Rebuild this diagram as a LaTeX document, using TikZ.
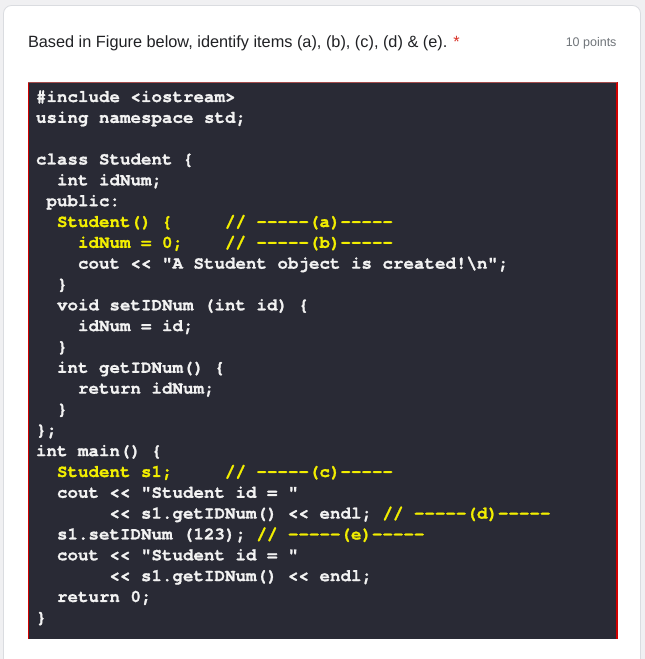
\documentclass[tikz,border=0pt]{standalone}
\usepackage{fontspec}
\setmainfont{Liberation Sans}
\newfontfamily\codefont{TeX Gyre Cursor}[BoldFeatures={FakeBold=1.2}]
\definecolor{pagebg}{HTML}{F0F0F2}
\definecolor{cardline}{HTML}{DADCE0}
\definecolor{codebg}{HTML}{292A35}
\definecolor{codered}{HTML}{D00000}
\definecolor{codeyellow}{HTML}{F2EE00}
\definecolor{codewhite}{HTML}{F2F2F2}
\definecolor{titletext}{HTML}{202124}
\definecolor{graytext}{HTML}{70757A}
\definecolor{starred}{HTML}{D93025}
\tikzset{
  codeline/.style={anchor=base west, inner sep=0pt, outer sep=0pt,
    font=\codefont\bfseries\fontsize{17.5bp}{20bp}\selectfont, text=codewhite},
  titlestyle/.style={anchor=base west, inner sep=0pt, outer sep=0pt,
    font=\fontsize{16.3bp}{19bp}\selectfont, text=titletext},
  pointsstyle/.style={anchor=base east, inner sep=0pt, outer sep=0pt,
    font=\fontsize{12.5bp}{15bp}\selectfont, text=graytext},
}
\newcommand{\yl}[1]{\textcolor{codeyellow}{#1}}
\begin{document}
\begin{tikzpicture}[x=1bp,y=-1bp]
\useasboundingbox (0,0) rectangle (645,659);
\clip (0,0) rectangle (645,659);
\fill[pagebg] (0,0) rectangle (645,659);
\draw[cardline, fill=white, rounded corners=8bp, line width=0.8bp] (3.5,5.5) rectangle (640.5,720);
% title
\node[titlestyle] (title) at (28,47.5) {Based in Figure below, identify items (a), (b), (c), (d) \& (e). \textcolor{starred}{*}};
\node[pointsstyle] (points) at (616.5,47) {10 points};
% code box
\fill[codebg] (28,82.5) rectangle (617,639);
\draw[codered, line width=1.4bp] (28.2,82.5) -- (28.2,639);
\draw[codered, line width=1.4bp] (616.8,82.5) -- (616.8,639);
\draw[black!40!codered!70, line width=1bp] (28,82.5) -- (617,82.5);
% code lines
\node[codeline] (c0)  at (36,{102+20.83*0})  {\#include <iostream>};
\node[codeline] (c1)  at (36,{102+20.83*1})  {using namespace std;};
\node[codeline] (c3)  at (36,{102+20.83*3})  {class Student \{};
\node[codeline] (c4)  at (36,{102+20.83*4})  {\ \ int idNum;};
\node[codeline] (c5)  at (36,{102+20.83*5})  {\ public:};
\node[codeline] (c6)  at (36,{102+20.83*6})  {\ \ \yl{Student() \{\ \ \ \ \ // -----(a)-----}};
\node[codeline] (c7)  at (36,{102+20.83*7})  {\ \ \ \ \yl{idNum = 0;\ \ \ \ // -----(b)-----}};
\node[codeline] (c8)  at (36,{102+20.83*8})  {\ \ \ \ cout << "A Student object is created!\textbackslash n";};
\node[codeline] (c9)  at (36,{102+20.83*9})  {\ \ \}};
\node[codeline] (c10) at (36,{102+20.83*10}) {\ \ void setIDNum (int id) \{};
\node[codeline] (c11) at (36,{102+20.83*11}) {\ \ \ \ idNum = id;};
\node[codeline] (c12) at (36,{102+20.83*12}) {\ \ \}};
\node[codeline] (c13) at (36,{102+20.83*13}) {\ \ int getIDNum() \{};
\node[codeline] (c14) at (36,{102+20.83*14}) {\ \ \ \ return idNum;};
\node[codeline] (c15) at (36,{102+20.83*15}) {\ \ \}};
\node[codeline] (c16) at (36,{102+20.83*16}) {\};};
\node[codeline] (c17) at (36,{102+20.83*17}) {int main() \{};
\node[codeline] (c18) at (36,{102+20.83*18}) {\ \ \yl{Student s1;\ \ \ \ \ // -----(c)-----}};
\node[codeline] (c19) at (36,{102+20.83*19}) {\ \ cout << "Student id = "};
\node[codeline] (c20) at (36,{102+20.83*20}) {\ \ \ \ \ \ \ << s1.getIDNum() << endl; \yl{// -----(d)-----}};
\node[codeline] (c21) at (36,{102+20.83*21}) {\ \ s1.setIDNum (123); \yl{// -----(e)-----}};
\node[codeline] (c22) at (36,{102+20.83*22}) {\ \ cout << "Student id = "};
\node[codeline] (c23) at (36,{102+20.83*23}) {\ \ \ \ \ \ \ << s1.getIDNum() << endl;};
\node[codeline] (c24) at (36,{102+20.83*24}) {\ \ return 0;};
\node[codeline] (c25) at (36,{102+20.83*25}) {\}};
\end{tikzpicture}
\end{document}
